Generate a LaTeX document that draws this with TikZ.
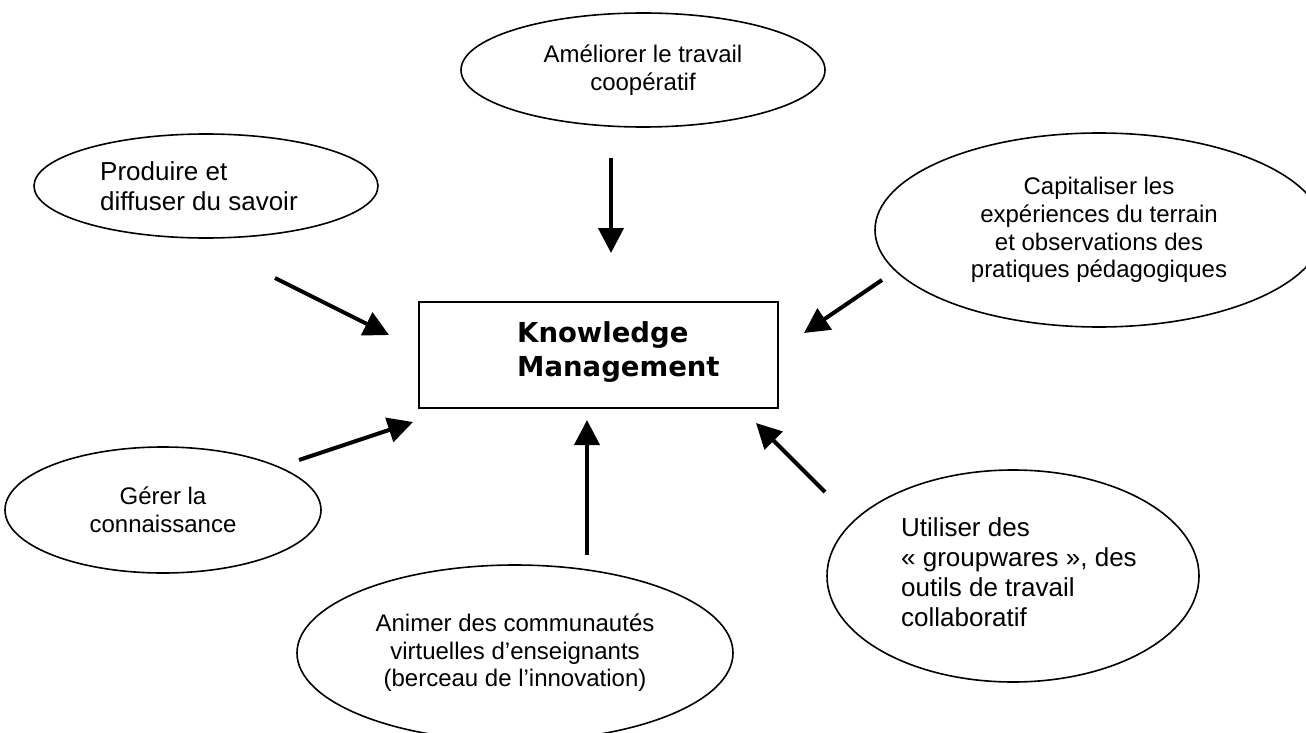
\documentclass[tikz,border=0pt]{standalone}
\usepackage{fontspec}
\setmainfont{Liberation Sans}
\newfontfamily\kmfont{DejaVu Sans}
\usetikzlibrary{shapes.geometric,arrows.meta}
\begin{document}
\begin{tikzpicture}[x=1pt,y=-1pt,
  bubble/.style={ellipse,draw,line width=1.6pt,inner sep=0pt,align=center,
    font=\fontsize{24}{27.6}\selectfont},
  bigtext/.style={anchor=west,inner sep=0pt,align=left,font=\fontsize{26}{30}\selectfont},
  flow/.style={line width=4pt,-{Triangle[length=25pt,width=25pt]}}]
\useasboundingbox (0,0) rectangle (1306,733);
\clip (0,0) rectangle (1306,733);

% central box
\node[draw,line width=1.8pt,minimum width=359pt,minimum height=106pt,inner sep=0pt] (km) at (598.5,355) {};
\node[anchor=west,align=left,inner sep=0pt,font=\kmfont\bfseries\fontsize{27.5}{34}\selectfont] (kmtext) at (517,352) {Knowledge\\Management};

% surrounding goals
\node[bubble,minimum width=364pt,minimum height=114pt] (coop) at (643,70) {Améliorer le travail\\coopératif};
\node[bubble,minimum width=344pt,minimum height=104pt] (prod) at (206,186) {};
\node[bigtext] (prodtext) at (100,186) {Produire et\\diffuser du savoir};
\node[bubble,minimum width=448pt,minimum height=194pt] (capi) at (1099,230) {Capitaliser les\\expériences du terrain\\et observations des\\pratiques pédagogiques};
\node[bubble,minimum width=316pt,minimum height=126pt] (gerer) at (163,510) {Gérer la\\connaissance};
\node[bubble,minimum width=436pt,minimum height=176pt] (anim) at (515,653) {Animer des communautés\\virtuelles d’enseignants\\(berceau de l’innovation)};
\node[bubble,minimum width=372pt,minimum height=212pt] (util) at (1013,576) {};
\node[bigtext] (utiltext) at (901,572) {Utiliser des\\«~groupwares~», des\\outils de travail\\collaboratif};

% arrow ends
\coordinate (a1) at (611,158);  \coordinate (b1) at (611,253);
\coordinate (a2) at (275,278);  \coordinate (b2) at (389,335);
\coordinate (a3) at (882,280);  \coordinate (b3) at (804,333);
\coordinate (a4) at (299,460);  \coordinate (b4) at (413,422);
\coordinate (a5) at (587,555);  \coordinate (b5) at (587,420);
\coordinate (a6) at (825,492);  \coordinate (b6) at (756,423);

\draw[flow] (a1) -- (b1);
\draw[flow] (a2) -- (b2);
\draw[flow] (a3) -- (b3);
\draw[flow] (a4) -- (b4);
\draw[flow] (a5) -- (b5);
\draw[flow] (a6) -- (b6);
\end{tikzpicture}
\end{document}
